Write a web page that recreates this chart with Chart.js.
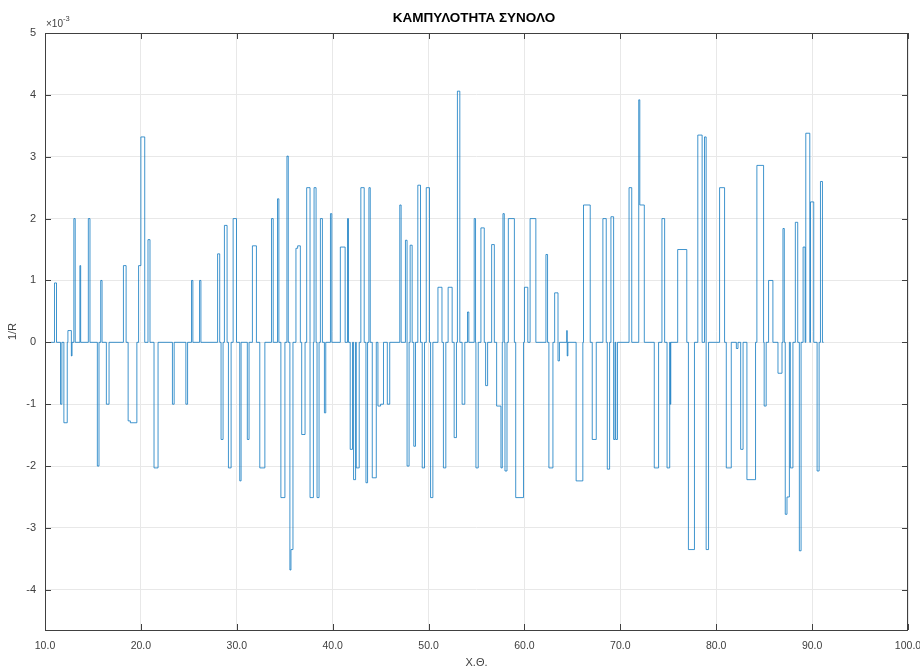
<!DOCTYPE html>
<html>
<head>
<meta charset="utf-8">
<script src="https://cdn.jsdelivr.net/npm/chart.js@4.4.1/dist/chart.umd.min.js"></script>
<style>
  html, body { margin: 0; background: #fff; }
</style>
</head>
<body>
<canvas id="curv" width="920" height="671"></canvas>
<script>
// curvature trace: zero everywhere except these rectangular pulses (units of 1e-3)
const traceStart = 10.6;
const traceEnd = 91.2;
const pulseStart = [
  10.99, 11.62, 11.97, 12.39, 12.75, 13.01, 13.64, 14.52, 15.46, 15.81,
  16.40, 18.18, 18.67, 18.90, 19.76, 20.00, 20.74, 21.37, 23.29, 24.69,
  25.28, 26.12, 28.00, 28.36, 28.71, 29.13, 29.62, 30.31, 31.10, 31.63,
  32.40, 33.62, 34.25, 34.60, 35.23, 35.54, 35.65, 36.17, 36.35, 36.77,
  37.29, 37.64, 38.06, 38.37, 38.72, 39.14, 39.77, 40.80, 41.55, 41.83,
  42.18, 42.46, 42.94, 43.47, 43.78, 44.13, 44.72, 45.00, 45.70, 47.00,
  47.59, 47.76, 48.08, 48.46, 48.88, 49.34, 49.76, 50.21, 50.98, 51.55,
  52.04, 52.67, 53.01, 53.50, 54.06, 54.76, 54.94, 55.46, 55.95, 56.58,
  57.10, 57.55, 57.76, 57.97, 58.32, 59.09, 60.00, 60.59, 62.24, 62.55,
  63.15, 63.50, 64.41, 64.46, 65.39, 66.16, 67.07, 68.18, 68.64, 69.02,
  69.30, 69.52, 70.91, 71.92, 72.03, 73.54, 74.34, 74.87, 75.20, 75.98,
  77.10, 78.08, 78.78, 78.95, 80.35, 81.05, 82.10, 82.55, 83.20, 84.24,
  85.00, 85.46, 86.44, 86.96, 87.20, 87.38, 87.73, 88.25, 88.67, 89.06,
  89.34, 89.83, 90.52, 90.87
];
const pulseEnd = [
  11.20, 11.76, 12.32, 12.75, 12.82, 13.15, 13.72, 14.69, 15.63, 15.95,
  16.68, 18.46, 18.90, 19.58, 20.00, 20.40, 20.95, 21.79, 23.47, 24.87,
  25.42, 26.26, 28.22, 28.57, 28.99, 29.41, 29.97, 30.45, 31.28, 32.05,
  32.93, 33.80, 34.39, 35.02, 35.37, 35.65, 35.86, 36.35, 36.63, 37.12,
  37.64, 37.99, 38.27, 38.58, 38.93, 39.28, 39.91, 41.30, 41.65, 42.07,
  42.39, 42.77, 43.29, 43.64, 43.92, 44.55, 45.00, 45.30, 45.95, 47.14,
  47.76, 47.97, 48.29, 48.64, 49.16, 49.58, 50.10, 50.45, 51.40, 51.80,
  52.46, 52.91, 53.26, 53.78, 54.20, 54.90, 55.18, 55.81, 56.16, 56.86,
  57.55, 57.69, 57.90, 58.18, 58.95, 59.90, 60.35, 61.19, 62.41, 62.97,
  63.50, 63.65, 64.46, 64.53, 66.09, 66.86, 67.49, 68.53, 68.88, 69.30,
  69.45, 69.70, 71.19, 72.03, 72.50, 73.99, 74.62, 75.15, 75.26, 76.93,
  77.73, 78.53, 78.95, 79.20, 80.87, 81.57, 82.27, 82.80, 84.10, 84.94,
  85.21, 85.91, 86.86, 87.10, 87.38, 87.63, 88.00, 88.50, 88.85, 89.27,
  89.76, 90.17, 90.73, 91.08
];
const pulseLevel = [
   0.96, -1.00, -1.30,  0.19, -0.22,  2.00,  1.24,  2.00, -2.00,  1.00,
  -1.00,  1.24, -1.27, -1.30,  1.24,  3.32,  1.66, -2.03, -1.00, -1.00,
   1.00,  1.00,  1.43, -1.57,  1.89, -2.03,  2.00, -2.24, -1.57,  1.56,
  -2.03,  2.00,  2.32, -2.51,  3.01, -3.68, -3.35,  1.52,  1.56, -1.49,
   2.50, -2.51,  2.50, -2.51,  2.00, -1.14,  2.08,  1.54,  2.00, -1.73,
  -2.22, -2.03,  2.50, -2.27,  2.50, -2.19, -1.03, -1.00, -1.00,  2.22,
   1.65, -2.00,  1.57, -1.68,  2.54, -2.03,  2.50, -2.51,  0.89, -2.03,
   0.89, -1.54,  4.06, -1.00,  0.49,  2.00, -2.03,  1.85, -0.70,  1.58,
  -1.03, -2.03,  2.08, -2.08,  2.00, -2.51,  0.89,  2.00,  1.42, -2.03,
   0.80, -0.30,  0.19, -0.22, -2.24,  2.22, -1.57,  2.00, -2.05,  2.03,
  -1.57, -1.57,  2.50,  3.92,  2.22, -2.03,  2.00, -2.03, -1.00,  1.50,
  -3.35,  3.35,  3.32, -3.35,  2.50, -2.03, -0.10, -1.73, -2.22,  2.86,
  -1.03,  1.00, -0.50,  1.84, -2.78, -2.50, -2.03,  1.94, -3.37,  1.54,
   3.38,  2.27, -2.08,  2.60
];

const xTicks = [10, 20, 30, 40, 50, 60, 70, 80, 90, 100];
const yTicks = [-4, -3, -2, -1, 0, 1, 2, 3, 4, 5];

// stair points: each pulse rises at its start and falls back to zero at its end
const points = [{ x: traceStart, y: 0 }];
for (let i = 0; i < pulseLevel.length; i++) {
  points.push({ x: pulseStart[i], y: pulseLevel[i] });
  const next = pulseStart[i + 1];
  if (next === undefined || next > pulseEnd[i] + 1e-9) {
    points.push({ x: pulseEnd[i], y: 0 });
  }
}
points.push({ x: traceEnd, y: 0 });

const axisColor = '#404040';
const font = { family: "'Liberation Sans', Arial, sans-serif", size: 11 };
const xFont = { family: "'Liberation Sans', Arial, sans-serif", size: 10.5 };

// title, exponent note and the closed axes box with inward ticks
const framePlugin = {
  id: 'frame',
  afterDraw(chart) {
    const { ctx, chartArea: a, scales } = chart;
    ctx.save();
    ctx.strokeStyle = axisColor;
    ctx.lineWidth = 1;
    ctx.strokeRect(a.left + 0.5, a.top + 0.5, a.right - a.left - 1, a.bottom - a.top);
    ctx.beginPath();
    xTicks.forEach(v => {
      const px = Math.round(scales.x.getPixelForValue(v)) + 0.5;
      ctx.moveTo(px, a.bottom); ctx.lineTo(px, a.bottom - 6);
      ctx.moveTo(px, a.top); ctx.lineTo(px, a.top + 6);
    });
    yTicks.forEach(v => {
      const py = Math.round(scales.y.getPixelForValue(v)) + 0.5;
      ctx.moveTo(a.left, py); ctx.lineTo(a.left + 6, py);
      ctx.moveTo(a.right, py); ctx.lineTo(a.right - 6, py);
    });
    ctx.stroke();

    ctx.fillStyle = '#000';
    ctx.font = "bold 13.5px 'Liberation Sans', Arial, sans-serif";
    ctx.textAlign = 'center';
    ctx.textBaseline = 'middle';
    ctx.fillText('ΚΑΜΠΥΛΟΤΗΤΑ ΣΥΝΟΛΟ', 474, 18);

    ctx.fillStyle = axisColor;
    ctx.textAlign = 'left';
    ctx.textBaseline = 'alphabetic';
    ctx.font = "10px 'Liberation Sans', Arial, sans-serif";
    ctx.fillText('×10', a.left + 1, 27);
    const w = ctx.measureText('×10').width;
    ctx.font = "7.5px 'Liberation Sans', Arial, sans-serif";
    ctx.fillText('-3', a.left + 1 + w, 21);
    ctx.restore();
  }
};

new Chart(document.getElementById('curv'), {
  type: 'line',
  data: {
    datasets: [{
      data: points,
      stepped: 'before',
      borderColor: 'rgba(0, 114, 189, 0.75)',
      borderWidth: 1,
      pointRadius: 0,
      fill: false
    }]
  },
  options: {
    responsive: false,
    animation: false,
    devicePixelRatio: 1,
    layout: { padding: { top: 33, right: 12, left: 0, bottom: 0 } },
    plugins: { legend: { display: false }, title: { display: false }, tooltip: { enabled: false } },
    scales: {
      x: {
        type: 'linear',
        min: 10,
        max: 100,
        afterFit: s => { s.height = 41; s.paddingLeft = 0; s.paddingRight = 0; },
        afterBuildTicks: s => { s.ticks = xTicks.map(v => ({ value: v })); },
        grid: { color: '#e8e8e8', drawTicks: false },
        border: { display: false },
        ticks: { color: axisColor, font: xFont, padding: 10, maxRotation: 0, callback: v => v.toFixed(1) },
        title: { display: true, text: 'Χ.Θ.', color: axisColor, font, padding: { top: 2, bottom: 1 } }
      },
      y: {
        type: 'linear',
        min: -4.65,
        max: 5,
        afterFit: s => { s.width = 45; s.paddingTop = 0; s.paddingBottom = 0; },
        afterBuildTicks: s => { s.ticks = yTicks.map(v => ({ value: v })); },
        grid: { color: '#e8e8e8', drawTicks: false },
        border: { display: false },
        ticks: { color: axisColor, font, padding: 9 },
        title: { display: true, text: '1/R', color: axisColor, font, padding: { top: 6, bottom: 0 } }
      }
    }
  },
  plugins: [framePlugin]
});
</script>
</body>
</html>
